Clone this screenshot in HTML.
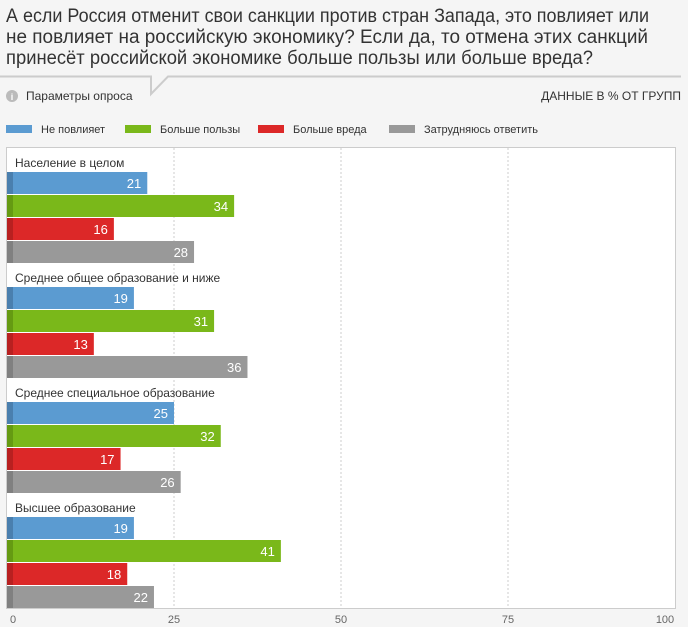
<!DOCTYPE html>
<html><head><meta charset="utf-8"><style>
html,body{margin:0;padding:0;background:#f5f5f5;}
svg{display:block;font-family:"Liberation Sans",sans-serif;}
</style></head><body>
<svg width="688" height="627" viewBox="0 0 688 627" xmlns="http://www.w3.org/2000/svg">
<rect width="688" height="627" fill="#f5f5f5"/>
<g fill="#333" font-size="19">
<text x="6" y="22" textLength="643" lengthAdjust="spacingAndGlyphs">А если Россия отменит свои санкции против стран Запада, это повлияет или</text>
<text x="6" y="43" textLength="642" lengthAdjust="spacingAndGlyphs">не повлияет на российскую экономику? Если да, то отмена этих санкций</text>
<text x="6" y="64" textLength="587" lengthAdjust="spacingAndGlyphs">принесёт российской экономике больше пользы или больше вреда?</text>
</g>
<polyline points="0,76.5 151,76.5 151,94 168,76.5 681,76.5" fill="none" stroke="#ccc" stroke-width="2"/>
<circle cx="12" cy="96" r="6" fill="#bbb"/>
<text x="12" y="100" font-size="9" fill="#fff" text-anchor="middle" font-weight="bold">i</text>
<text x="26" y="100" font-size="12" fill="#333">Параметры опроса</text>
<text x="681" y="100" font-size="12" fill="#333" text-anchor="end">ДАННЫЕ В % ОТ ГРУПП</text>
<g font-size="11" fill="#333">
<rect x="6" y="125" width="26" height="8" fill="#5b9bd1"/><text x="41" y="133">Не повлияет</text>
<rect x="125" y="125" width="26" height="8" fill="#7ab81a"/><text x="160" y="133">Больше пользы</text>
<rect x="258" y="125" width="26" height="8" fill="#dc2828"/><text x="293" y="133">Больше вреда</text>
<rect x="389" y="125" width="26" height="8" fill="#999"/><text x="424" y="133">Затрудняюсь ответить</text>
</g>
<rect x="6.5" y="147.5" width="669" height="461" fill="#fff" stroke="#ccc"/>
<g stroke="#ccc" stroke-dasharray="2,2">
<line x1="174" y1="148" x2="174" y2="608"/>
<line x1="341" y1="148" x2="341" y2="608"/>
<line x1="508" y1="148" x2="508" y2="608"/>
</g>
<line x1="6" y1="608.5" x2="676" y2="608.5" stroke="#ccc"/>
<g font-size="11" fill="#666" text-anchor="middle">
<text x="13" y="623">0</text><text x="174" y="623">25</text><text x="341" y="623">50</text><text x="508" y="623">75</text><text x="665" y="623">100</text>
</g>
<g id="bars" font-size="13" fill="#fff" text-anchor="end"></g>
</svg>
<script>
var groups=[["Население в целом",[21,34,16,28]],["Среднее общее образование и ниже",[19,31,13,36]],["Среднее специальное образование",[25,32,17,26]],["Высшее образование",[19,41,18,22]]];
var cols=["#5b9bd1","#7ab81a","#dc2828","#999"],dark=["#4a7fae","#659a12","#b82020","#808080"];
var g=document.getElementById("bars"),s="";
groups.forEach(function(gr,i){var y0=172+i*115;
s+='<text x="15" y="'+(y0-5)+'" font-size="12" fill="#333" text-anchor="start">'+gr[0]+'</text>';
gr[1].forEach(function(v,j){var y=y0+j*23,w=v*6.68;
s+='<rect x="7" y="'+y+'" width="'+w+'" height="22" fill="'+cols[j]+'"/>';
s+='<rect x="7" y="'+y+'" width="6" height="22" fill="'+dark[j]+'"/>';
s+='<text x="'+(7+w-6)+'" y="'+(y+16)+'">'+v+'</text>';});});
g.innerHTML=s;
</script>
</body></html>
